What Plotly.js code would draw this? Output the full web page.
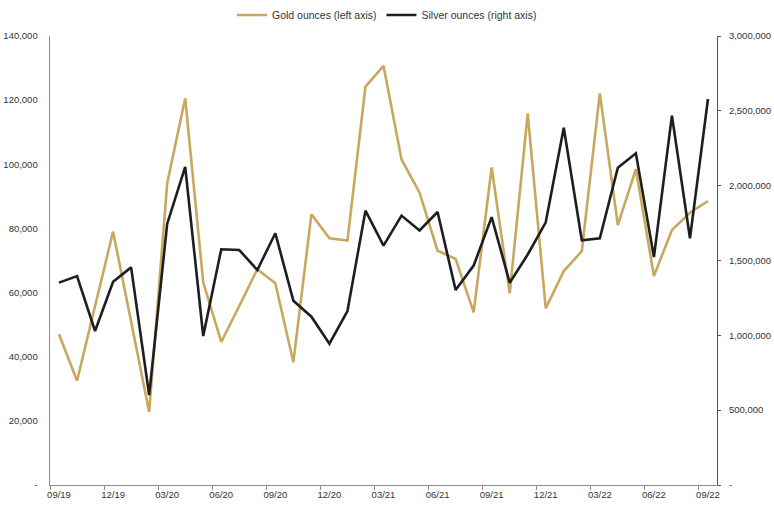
<!DOCTYPE html>
<html>
<head>
<meta charset="utf-8">
<script src="https://cdn.plot.ly/plotly-3.0.1.min.js"></script>
<style>html,body{margin:0;padding:0;background:#fff}#chart{width:774px;height:509px}</style>
</head>
<body>
<div id="chart"></div>
<script>
const months = ["09/19","10/19","11/19","12/19","01/20","02/20","03/20","04/20","05/20","06/20","07/20","08/20",
  "09/20","10/20","11/20","12/20","01/21","02/21","03/21","04/21","05/21","06/21","07/21","08/21",
  "09/21","10/21","11/21","12/21","01/22","02/22","03/22","04/22","05/22","06/22","07/22","08/22","09/22"];
const goldOunces = [47000, 32500, 55800, 79000, 51000, 22800, 94000, 120600, 63200, 44600, 55800, 67300,
  62900, 38300, 84400, 76900, 76200, 124200, 130700, 101500, 91150, 73060, 70500, 53800,
  99000, 59770, 115900, 55100, 66700, 72900, 122100, 81070, 98500, 65170, 79500, 84900, 88550];
const silverOunces = [1352000, 1396000, 1029000, 1358000, 1454000, 601000, 1744000, 2125000, 995500, 1575000, 1570000, 1436500,
  1682000, 1231500, 1124700, 944300, 1162500, 1833000, 1599000, 1800000, 1701000, 1824000, 1303000, 1466000,
  1790000, 1351700, 1540000, 1755000, 2387000, 1635000, 1648300, 2120000, 2216000, 1523000, 2467600, 1648300, 2579000];
const leftTickVals = [0, 20000, 40000, 60000, 80000, 100000, 120000, 140000];
const leftTickText = ["-", "20,000", "40,000", "60,000", "80,000", "100,000", "120,000", "140,000"];
const rightTickVals = [0, 500000, 1000000, 1500000, 2000000, 2500000, 3000000];
const rightTickText = ["-", "500,000", "1,000,000", "1,500,000", "2,000,000", "2,500,000", "3,000,000"];

const FONT = "Liberation Sans, Arial, sans-serif";
const traces = [
  {x: months, y: goldOunces, type: "scatter", mode: "lines", name: "Gold ounces (left axis)",
   line: {color: "#C7A85E", width: 2.6}, yaxis: "y"},
  {x: months, y: silverOunces, type: "scatter", mode: "lines", name: "Silver ounces (right axis)",
   line: {color: "#1E1E1E", width: 2.6}, yaxis: "y2"}
];
const layout = {
  width: 774, height: 509,
  margin: {l: 50, r: 57, t: 36, b: 24, pad: 0},
  paper_bgcolor: "#fff", plot_bgcolor: "#fff",
  font: {family: FONT, size: 9.5, color: "#333"},
  showlegend: true,
  legend: {orientation: "h", x: 0.5, xanchor: "center", xref: "container", y: 1 - 15/509, yref: "container", yanchor: "middle",
    font: {family: FONT, size: 10.5, color: "#333"}, itemwidth: 30, traceorder: "normal"},
  xaxis: {type: "category", range: [-0.5, 36.5], tickmode: "linear", tick0: 0, dtick: 3, tickson: "boundaries",
    tickangle: 0, automargin: false,
    showgrid: false, zeroline: false, showline: true, linecolor: "#8C8C8C", linewidth: 1.2,
    ticks: "outside", ticklen: 4, tickcolor: "#8C8C8C", tickfont: {family: FONT, size: 9.5, color: "#333"}},
  yaxis: {range: [0, 140000], tickvals: leftTickVals, ticktext: leftTickText, showgrid: false, zeroline: false,
    automargin: false,
    showline: true, linecolor: "#8C8C8C", linewidth: 1.4, ticks: "outside", ticklen: 9, tickcolor: "rgba(0,0,0,0)",
    tickfont: {family: FONT, size: 9.5, color: "#333"}},
  yaxis2: {range: [0, 3000000], overlaying: "y", side: "right", tickvals: rightTickVals, ticktext: rightTickText,
    automargin: false,
    showgrid: false, zeroline: false, showline: true, linecolor: "#555", linewidth: 1, ticks: "outside", ticklen: 3,
    tickcolor: "#555", ticklabelstandoff: 6, tickfont: {family: FONT, size: 9.5, color: "#333"}}
};
Plotly.newPlot("chart", traces, layout, {displayModeBar: false, staticPlot: true});
</script>
</body>
</html>
